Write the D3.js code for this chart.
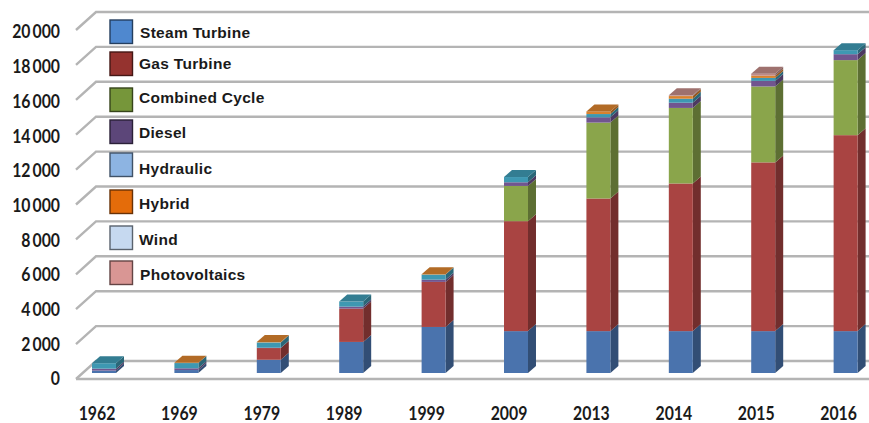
<!DOCTYPE html>
<html>
<head>
<meta charset="utf-8">
<script src="https://cdn.jsdelivr.net/npm/d3@7"></script>
<style>
  html, body { margin: 0; padding: 0; background: #fff; }
  svg { display: block; }
  .tick text { font-family: Lato, sans-serif; font-weight: 700; fill: #1a1a1a; font-size: 18.5px; }
  .legend-label { font-family: "Liberation Sans", Arial, sans-serif; font-weight: 700; font-size: 15.5px; fill: #1a1a1a; letter-spacing: 0.3px; }
</style>
</head>
<body>
<svg id="chart" width="869" height="423"></svg>
<script>
// Installed generation capacity by technology (MW)
const years = ["1962", "1969", "1979", "1989", "1999", "2009", "2013", "2014", "2015", "2016"];
const seriesNames = ["Steam Turbine", "Gas Turbine", "Combined Cycle", "Diesel", "Hydraulic", "Hybrid", "Wind", "Photovoltaics"];

const steamTurbine  = [140, 170, 760, 1780, 2640, 2400, 2400, 2400, 2400, 2400];
const gasTurbine    = [0, 0, 670, 1910, 2580, 6300, 7600, 8460, 9670, 11230];
const combinedCycle = [0, 0, 0, 0, 0, 2020, 4350, 4330, 4350, 4300];
const diesel        = [110, 100, 20, 115, 130, 210, 300, 300, 320, 340];
const hydraulic     = [310, 300, 300, 290, 290, 300, 190, 230, 170, 230];
const hybrid        = [0, 15, 20, 0, 20, 0, 150, 150, 130, 0];
const wind          = [0, 0, 0, 0, 0, 0, 0, 0, 0, 0];
const photovoltaics = [0, 0, 0, 0, 0, 0, 0, 40, 110, 0];

const yTicks = [0, 2000, 4000, 6000, 8000, 10000, 12000, 14000, 16000, 18000, 20000];

const allSeries = [steamTurbine, gasTurbine, combinedCycle, diesel, hydraulic, hybrid, wind, photovoltaics];
const barColors = ["#4a73ad", "#a94442", "#8aa54b", "#71558f", "#3e98b2", "#d9822e", "#a9bfe0", "#c08a86"];
const legendColors = ["#4f88cf", "#95332f", "#76963a", "#5c4679", "#8db4e2", "#e46c0a", "#c6d9f0", "#d99694"];

// Layout of the pseudo-3D box
const depth = { x: 20, y: 18 };      // floor depth, front edge to back wall
const barDepth = { x: 8, y: 7 };     // depth of each column
const barFront = 12;                 // downward shift of a column's front face from the wall
const labelSqueeze = 0.855;          // horizontal condensing of axis labels
const legendTops = [20, 52, 88, 120, 153, 190, 226, 261];
const legendTextY = [33, 64, 98, 133, 169, 204, 240, 275];
const legendTextX = [140, 139, 139, 139, 139, 139, 139, 140];

const svg = d3.select("#chart");
const xWall = 96, xRight = 869;

const y = d3.scaleLinear().domain([0, 20000]).range([361, 12]);
const yLabel = d3.scaleLinear().domain([0, 20000]).range([379, 32]);
const x = d3.scaleBand().domain(years).range([92, 857.6]).paddingInner(0.709).paddingOuter(0);

// Gridlines on the back wall with their diagonal returns along the side wall
const gridColor = "#b4b4b4";
const grid = svg.append("g").attr("fill", "none").attr("stroke", gridColor).attr("stroke-width", 2.4);
grid.selectAll("path").data(yTicks).join("path")
  .attr("d", d => `M${xWall - depth.x},${y(d) + depth.y}L${xWall},${y(d)}H${xRight}`);
grid.append("line")
  .attr("x1", xWall - depth.x).attr("x2", xRight)
  .attr("y1", y(0) + depth.y).attr("y2", y(0) + depth.y);

// Value axis labels sit at the front ends of the diagonals
const fmt = d3.formatLocale({ decimal: ".", thousands: "\u2009", grouping: [3], currency: ["", ""] }).format(",");
const yAxisG = svg.append("g")
  .attr("transform", "translate(60,0)")
  .call(d3.axisLeft(yLabel).tickValues(yTicks).tickFormat(fmt).tickSize(0).tickPadding(0));
yAxisG.select(".domain").remove();
yAxisG.selectAll("text").attr("x", 0).attr("transform", `scale(${labelSqueeze},1)`);

// Category axis
const xAxisG = svg.append("g")
  .attr("transform", "translate(-7,407)")
  .call(d3.axisBottom(x).tickSize(0).tickPadding(0));
xAxisG.select(".domain").remove();
xAxisG.selectAll("text").attr("transform", `scale(${labelSqueeze},1)`);

// Stacked columns: front face, side face and a cap for the top-most series
const stack = svg.append("g");
years.forEach((year, i) => {
  const left = x(year), w = x.bandwidth();
  const g = stack.append("g");
  let base = 0, topIndex = 0;
  allSeries.forEach((values, s) => {
    const v = values[i];
    if (!v) return;
    const y0 = y(base) + barFront, y1 = y(base + v) + barFront;
    const c = d3.color(barColors[s]);
    g.append("path")
      .attr("fill", c.darker(1.1))
      .attr("d", `M${left + w},${y1}L${left + w + barDepth.x},${y1 - barDepth.y}V${y0 - barDepth.y}L${left + w},${y0}Z`);
    g.append("rect")
      .attr("x", left).attr("y", y1).attr("width", w).attr("height", y0 - y1)
      .attr("fill", c);
    base += v;
    topIndex = s;
  });
  const yt = y(base) + barFront;
  g.append("path")
    .attr("fill", d3.color(barColors[topIndex]).darker(0.55))
    .attr("d", `M${left},${yt}H${left + w}L${left + w + barDepth.x},${yt - barDepth.y}H${left + barDepth.x}Z`);
});

// Legend
const legend = svg.append("g");
seriesNames.forEach((name, i) => {
  legend.append("rect")
    .attr("x", 110).attr("y", legendTops[i]).attr("width", 22.5).attr("height", 23.5)
    .attr("fill", legendColors[i])
    .attr("stroke", d3.color(legendColors[i]).darker(2.2))
    .attr("stroke-width", 1.4);
  legend.append("text")
    .attr("class", "legend-label")
    .attr("x", legendTextX[i]).attr("y", legendTextY[i])
    .attr("dy", "0.35em")
    .text(name);
});
</script>
</body>
</html>
